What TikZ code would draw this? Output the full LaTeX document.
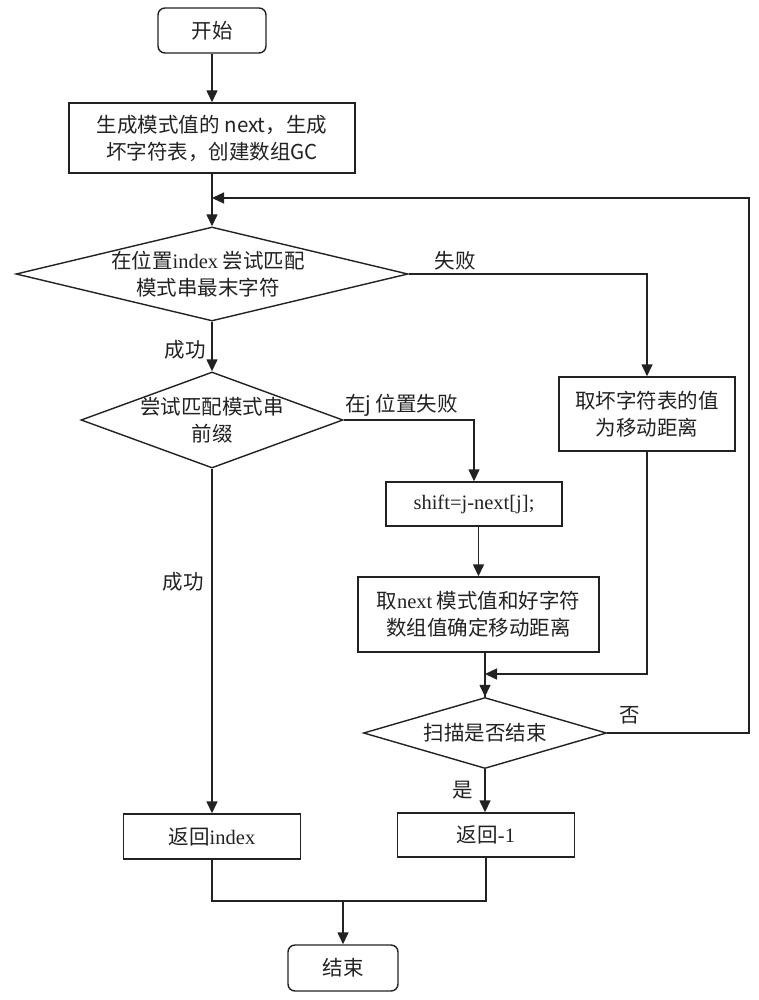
\documentclass[tikz,border=0pt]{standalone}
\usepackage{fontspec}
\setmainfont{Liberation Serif}
\newfontfamily\cjk{Noto Sans CJK SC}
\usetikzlibrary{arrows.meta,shapes.geometric}
\definecolor{ink}{HTML}{222222}
\tikzset{
  every node/.style={font=\cjk\fontsize{20.5}{27}\selectfont, text=ink},
  boxs/.style={draw=ink, line width=1.4pt, rectangle, inner sep=0pt, align=center},
  term/.style={boxs, rounded corners=7pt},
  dia/.style={draw=ink, line width=1.4pt, diamond, inner sep=0pt},
  conn/.style={draw=ink, line width=1.4pt},
  arr/.style={conn, -{Triangle[length=12pt,width=11pt]}},
  lab/.style={inner sep=1pt}
}
\begin{document}
\begin{tikzpicture}[x=1pt,y=-1pt]
\useasboundingbox (0,0) rectangle (759,1000);
\fill[white] (0,0) rectangle (759,1000);
% nodes
\node[term, minimum width=108pt, minimum height=45pt] (start) at (212,30.5) {开始};
\node[boxs, minimum width=286pt, minimum height=70pt] (box1) at (212,138) {生成模式值的 next，生成\\坏字符表，创建数组GC};
\node[dia, minimum width=392pt, minimum height=94pt] (d1) at (212,274) {};
\node[align=center] (d1t) at (208,274) {在位置{\rmfamily index} 尝试匹配\\模式串最末字符};
\node[boxs, minimum width=176pt, minimum height=74pt] (box2) at (647,414) {取坏字符表的值\\为移动距离};
\node[dia, minimum width=262pt, minimum height=96pt] (d2) at (212,420) {};
\node[align=center] (d2t) at (212,420) {尝试匹配模式串\\前缀};
\node[boxs, minimum width=176pt, minimum height=44pt] (shift) at (474,504) {\rmfamily shift=j-next[j];};
\node[boxs, minimum width=241pt, minimum height=75pt] (box3) at (478.5,614.5) {取{\rmfamily next} 模式值和好字符\\数组值确定移动距离};
\node[dia, minimum width=243pt, minimum height=71pt] (d4) at (485,733) {};
\node (d4t) at (485,733) {扫描是否结束};
\node[boxs, minimum width=177pt, minimum height=44pt] (ret1) at (486,835) {返回{\rmfamily -1}};
\node[boxs, minimum width=177pt, minimum height=45pt] (retidx) at (212,836.5) {返回{\rmfamily index}};
\node[term, minimum width=110pt, minimum height=46pt] (end) at (343,968) {结束};
% helper coordinates
\coordinate (j1) at (212,198);
\coordinate (r1) at (749,198);
\coordinate (j2) at (485,674);
\coordinate (m) at (343,901);
% connectors
\draw[arr] (start) -- (box1);
\draw[arr] (box1.south) -- (d1.north);
\draw[arr] (d4.east) -| (r1) -- (j1);
\draw[arr] (d1.east) -| (box2.north);
\node[lab] (lfail) at (455,261) {失败};
\draw[arr] (d1.south) -- (d2.north);
\node[lab] (lok1) at (185,350) {成功};
\draw[arr] (d2.east) -| (shift.north);
\node[lab, anchor=west] (ljfail) at (344,405) {在j 位置失败};
\draw[arr] (shift.south -| box3.north) -- (box3.north);
\draw[conn] (box3.south -| d4.north) -- (d4.north);
\draw[arr] (box2.south) |- (j2);
\draw[arr] (j2) -- (d4.north);
\node[lab] (lno) at (630,715) {否};
\draw[arr] (d4.south) -- (d4.south |- ret1.north);
\node[lab] (lyes) at (463,790) {是};
\draw[arr] (d2.south) -- (retidx.north);
\node[lab] (lok2) at (183,582) {成功};
\draw[conn] (retidx.south) |- (m) -| (ret1.south);
\draw[arr] (m) -- (end.north);
\end{tikzpicture}
\end{document}
